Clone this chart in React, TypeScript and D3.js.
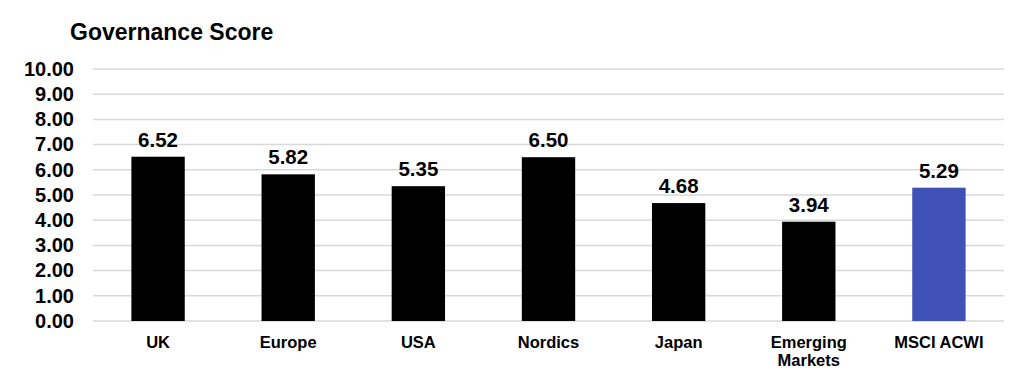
import React from "react";
import * as d3 from "d3";

const categories: string[][] = [["UK"], ["Europe"], ["USA"], ["Nordics"], ["Japan"], ["Emerging", "Markets"], ["MSCI ACWI"]];
const values: number[] = [6.52, 5.82, 5.35, 6.5, 4.68, 3.94, 5.29];
const barColors: string[] = ["#000000", "#000000", "#000000", "#000000", "#000000", "#000000", "#3f51b5"];
const yTicks: number[] = [0, 1, 2, 3, 4, 5, 6, 7, 8, 9, 10];
const title = "Governance Score";

export default function App() {
  const W = 1024, H = 378;
  const left = 93, right = 1004, top = 69, bottom = 321;
  const x = d3.scaleBand<number>().domain(d3.range(values.length)).range([left, right]).paddingInner(0.59).paddingOuter(0.295);
  const y = d3.scaleLinear().domain([0, 10]).range([bottom, top]);
  const font = "'Liberation Sans', Arial, sans-serif";
  return (
    <svg width={W} height={H} style={{ position: "absolute", left: 0, top: 0 }} fontFamily={font}>
      <rect width={W} height={H} fill="#fff" />
      <text x={70} y={40} fontSize={23} fontWeight="bold" fill="#000">{title}</text>
      {yTicks.map((t) => (
        <g key={t}>
          <line x1={left} x2={right} y1={y(t)} y2={y(t)} stroke="#d9d9d9" strokeWidth={1.5} />
          <text x={74} y={y(t) + 6.8} fontSize={20} fontWeight="bold" textAnchor="end" fill="#000">{t.toFixed(2)}</text>
        </g>
      ))}
      {values.map((v, i) => {
        const bx = x(i)!;
        const bw = x.bandwidth();
        return (
          <g key={i}>
            <rect x={bx} y={y(v)} width={bw} height={y(0) - y(v)} fill={barColors[i]} />
            <text x={bx + bw / 2} y={y(v) - 10} fontSize={20.5} fontWeight="bold" textAnchor="middle" fill="#000">{v.toFixed(2)}</text>
            {categories[i].map((line, j) => (
              <text key={j} x={bx + bw / 2} y={347.5 + j * 18} fontSize={16.5} fontWeight="bold" textAnchor="middle" fill="#000">{line}</text>
            ))}
          </g>
        );
      })}
    </svg>
  );
}
